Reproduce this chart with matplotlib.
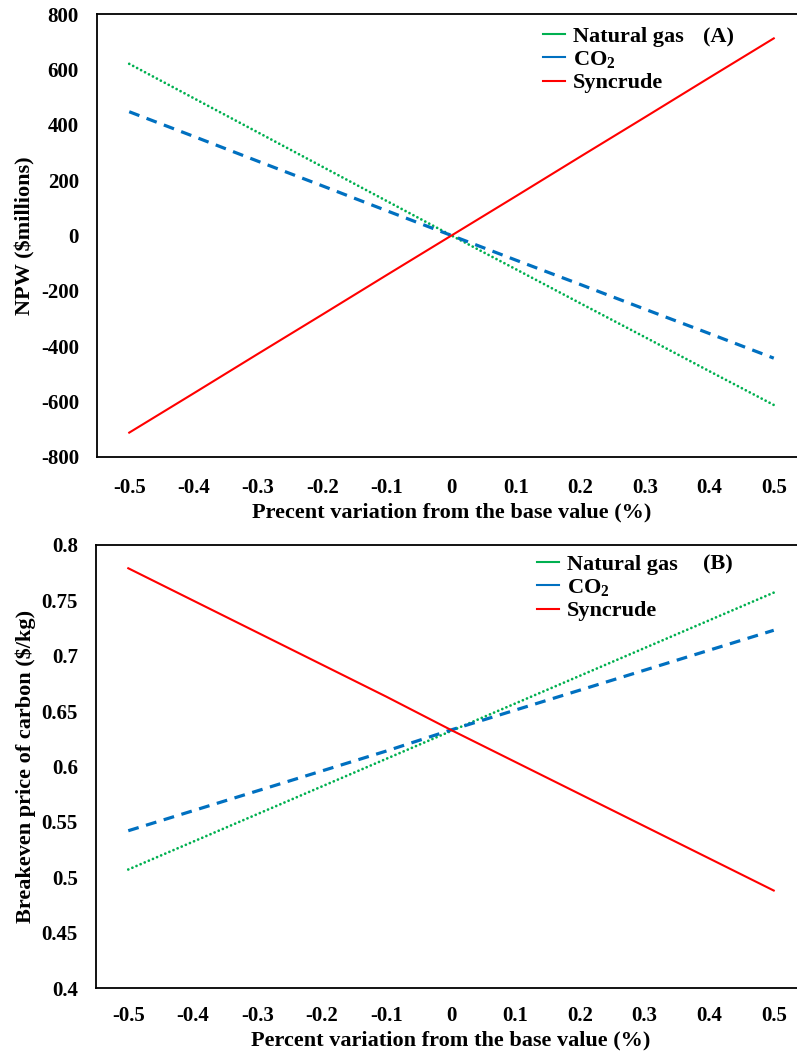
import matplotlib
matplotlib.use("Agg")
import matplotlib.pyplot as plt
from matplotlib.lines import Line2D

plt.rcParams['font.family'] = ['Liberation Serif', 'DejaVu Serif']
plt.rcParams['font.weight'] = 'bold'
plt.rcParams['mathtext.fontset'] = 'custom'
plt.rcParams['mathtext.rm'] = 'Liberation Serif:bold'
plt.rcParams['mathtext.it'] = 'Liberation Serif:bold'
plt.rcParams['mathtext.bf'] = 'Liberation Serif:bold'

# ---- data ----
x_vals = [-0.5, -0.4, -0.3, -0.2, -0.1, 0, 0.1, 0.2, 0.3, 0.4, 0.5]
x_labels = ['-0.5', '-0.4', '-0.3', '-0.2', '-0.1', '0', '0.1', '0.2', '0.3', '0.4', '0.5']

npw_natural_gas = [620, 496, 372, 248, 124, 0, -122, -245, -367, -490, -612]
npw_co2 = [447, 358, 268, 179, 89, 0, -89, -177, -266, -354, -443]
npw_syncrude = [-712, -570, -427, -285, -142, 0, 142, 285, 427, 570, 712]

bep_natural_gas = [0.507, 0.532, 0.557, 0.582, 0.607, 0.632, 0.657, 0.682, 0.707, 0.732, 0.757]
bep_co2 = [0.542, 0.560, 0.578, 0.596, 0.614, 0.633, 0.651, 0.669, 0.687, 0.705, 0.723]
bep_syncrude = [0.779, 0.750, 0.721, 0.692, 0.663, 0.633, 0.604, 0.575, 0.546, 0.517, 0.488]

series_names = ['Natural gas', 'CO$_2$', 'Syncrude']

npw_ticks = [-800, -600, -400, -200, 0, 200, 400, 600, 800]
bep_ticks = [0.4, 0.45, 0.5, 0.55, 0.6, 0.65, 0.7, 0.75, 0.8]
bep_tick_labels = ['0.4', '0.45', '0.5', '0.55', '0.6', '0.65', '0.7', '0.75', '0.8']

GREEN = '#00B050'
BLUE = '#0070C0'
RED = '#FF0000'

W, H = 797, 1059
fig = plt.figure(figsize=(W / 100, H / 100), dpi=100)

def px_axes(left, top, right, bottom):
    return fig.add_axes([left / W, 1 - bottom / H, (right - left) / W, (bottom - top) / H])

ax1 = px_axes(97, 14, 806, 457)
ax2 = px_axes(96, 545, 806, 988)

def style(ax, ng, co2, syn, yticks, yticklabels, ylim, ylabel, xlabel, tag, leg_px, tag_px, xpad):
    ax.plot(x_vals, ng, color=GREEN, lw=2.0, linestyle=(0, (0.01, 1.6)), dash_capstyle='round')
    ax.plot(x_vals, co2, color=BLUE, lw=2.3, linestyle=(0, (3.4, 2.4)))
    ax.plot(x_vals, syn, color=RED, lw=1.5)
    ax.set_xlim(-0.55, 0.55)
    ax.set_ylim(*ylim)
    ax.set_xticks(x_vals)
    ax.set_xticklabels(x_labels)
    ax.set_yticks(yticks)
    ax.set_yticklabels(yticklabels)
    ax.tick_params(axis='both', length=0, labelsize=15)
    ax.tick_params(axis='y', pad=13)
    ax.tick_params(axis='x', pad=xpad)
    for s in ['left', 'bottom', 'top']:
        ax.spines[s].set_linewidth(1.3)
        ax.spines[s].set_color('black')
    ax.spines['right'].set_visible(False)
    ax.set_ylabel(ylabel, fontsize=16, fontweight='bold', labelpad=4)
    ax.set_xlabel(xlabel, fontsize=16, fontweight='bold', labelpad=3)
    handles = [Line2D([], [], color=c, lw=1.5) for c in (GREEN, BLUE, RED)]
    ax.legend(handles, series_names, loc='upper left',
              bbox_to_anchor=(leg_px[0] / W, 1 - leg_px[1] / H),
              bbox_transform=fig.transFigure,
              frameon=False, fontsize=16, handlelength=1.0, handletextpad=0.35,
              labelspacing=0.12, borderaxespad=0, borderpad=0)
    fig.text(tag_px[0] / W, 1 - tag_px[1] / H, tag, fontsize=16,
             fontweight='bold', ha='left', va='center')

style(ax1, npw_natural_gas, npw_co2, npw_syncrude, npw_ticks,
      [str(t) for t in npw_ticks], (-800, 800), 'NPW ($millions)',
      'Precent variation from the base value (%)', '(A)',
      (543, 26), (703, 37), 15)

style(ax2, bep_natural_gas, bep_co2, bep_syncrude, bep_ticks,
      bep_tick_labels, (0.4, 0.8), 'Breakeven price of carbon ($/kg)',
      'Percent variation from the base value (%)', '(B)',
      (537, 554), (703, 564), 13)

fig.savefig('out.png', dpi=100)
